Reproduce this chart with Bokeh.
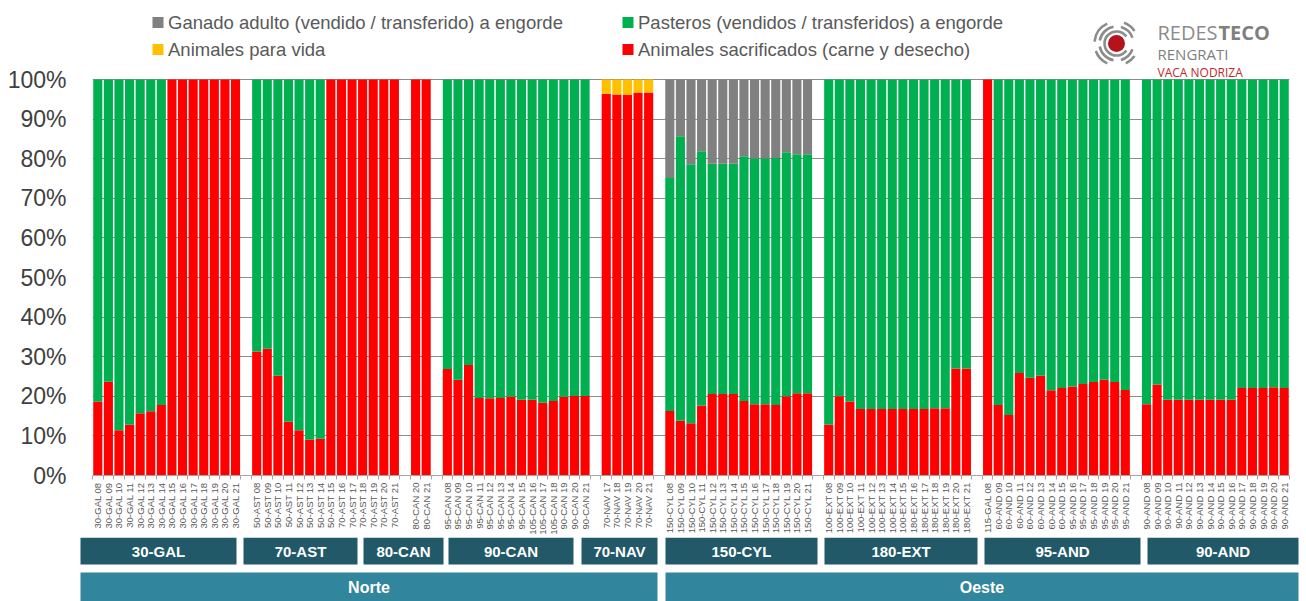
import math
from bokeh.plotting import figure
from bokeh.models import ColumnDataSource, Range1d, FixedTicker
from bokeh.layouts import column
from bokeh.embed import file_html
from bokeh.resources import INLINE
from bokeh.core.properties import value

# ---------------- data ----------------
groups = ["30-GAL", "70-AST", "80-CAN", "90-CAN", "70-NAV", "150-CYL", "180-EXT", "95-AND", "90-AND"]
group_sizes = [14, 14, 2, 14, 5, 14, 14, 14, 14]
regions = ["Norte", "Oeste"]

bar_labels = [
    # 30-GAL
    "30-GAL 08", "30-GAL 09", "30-GAL 10", "30-GAL 11", "30-GAL 12", "30-GAL 13", "30-GAL 14",
    "30-GAL 15", "30-GAL 16", "30-GAL 17", "30-GAL 18", "30-GAL 19", "30-GAL 20", "30-GAL 21",
    # 70-AST
    "50-AST 08", "50-AST 09", "50-AST 10", "50-AST 11", "50-AST 12", "50-AST 13", "50-AST 14",
    "50-AST 15", "70-AST 16", "70-AST 17", "70-AST 18", "70-AST 19", "70-AST 20", "70-AST 21",
    # 80-CAN
    "80-CAN 20", "80-CAN 21",
    # 90-CAN
    "95-CAN 08", "95-CAN 09", "95-CAN 10", "95-CAN 11", "95-CAN 12", "95-CAN 13", "95-CAN 14",
    "95-CAN 15", "105-CAN 16", "105-CAN 17", "105-CAN 18", "90-CAN 19", "90-CAN 20", "90-CAN 21",
    # 70-NAV
    "70-NAV 17", "70-NAV 18", "70-NAV 19", "70-NAV 20", "70-NAV 21",
    # 150-CYL
    "150-CYL 08", "150-CYL 09", "150-CYL 10", "150-CYL 11", "150-CYL 12", "150-CYL 13", "150-CYL 14",
    "150-CYL 15", "150-CYL 16", "150-CYL 17", "150-CYL 18", "150-CYL 19", "150-CYL 20", "150-CYL 21",
    # 180-EXT
    "100-EXT 08", "100-EXT 09", "100-EXT 10", "100-EXT 11", "100-EXT 12", "100-EXT 13", "100-EXT 14",
    "100-EXT 15", "180-EXT 16", "180-EXT 17", "180-EXT 18", "180-EXT 19", "180-EXT 20", "180-EXT 21",
    # 95-AND
    "115-GAL 08", "60-AND 09", "60-AND 10", "60-AND 11", "60-AND 12", "60-AND 13", "60-AND 14",
    "60-AND 15", "95-AND 16", "95-AND 17", "95-AND 18", "95-AND 19", "95-AND 20", "95-AND 21",
    # 90-AND
    "90-AND 08", "90-AND 09", "90-AND 10", "90-AND 11", "90-AND 12", "90-AND 13", "90-AND 14",
    "90-AND 15", "90-AND 16", "90-AND 17", "90-AND 18", "90-AND 19", "90-AND 20", "90-AND 21",
]

# Animales sacrificados (carne y desecho) - %
sacrificados = [
    18.7, 23.7, 11.4, 12.8, 15.7, 16.2, 17.8, 100, 100, 100, 100, 100, 100, 100,
    31.3, 32.0, 25.2, 13.6, 11.4, 9.1, 9.3, 100, 100, 100, 100, 100, 100, 100,
    100, 100,
    26.9, 24.2, 27.9, 19.6, 19.5, 19.6, 19.9, 19.1, 19.1, 18.4, 18.8, 19.9, 20.1, 20.1,
    96.4, 96.2, 96.1, 96.7, 96.7,
    16.3, 13.8, 13.2, 17.7, 20.6, 20.6, 20.6, 18.8, 18.0, 18.0, 17.8, 20.0, 20.8, 20.8,
    12.9, 20.0, 18.7, 16.8, 16.8, 16.8, 16.8, 16.8, 16.8, 16.8, 17.0, 17.0, 27.0, 27.0,
    100, 17.8, 15.3, 25.9, 24.7, 25.2, 21.5, 22.1, 22.5, 23.1, 23.6, 24.2, 23.6, 21.6,
    18.0, 23.0, 19.1, 19.1, 19.1, 19.1, 19.1, 19.1, 19.1, 22.1, 22.1, 22.1, 22.3, 22.1,
]
# Pasteros (vendidos / transferidos) a engorde - %
pasteros = [
    81.3, 76.3, 88.6, 87.2, 84.3, 83.8, 82.2, 0, 0, 0, 0, 0, 0, 0,
    68.7, 68.0, 74.8, 86.4, 88.6, 90.9, 90.7, 0, 0, 0, 0, 0, 0, 0,
    0, 0,
    73.1, 75.8, 72.1, 80.4, 80.5, 80.4, 80.1, 80.9, 80.9, 81.6, 81.2, 80.1, 79.9, 79.9,
    0, 0, 0, 0, 0,
    58.8, 71.9, 65.4, 64.2, 58.1, 58.1, 58.1, 61.8, 62.1, 62.1, 62.4, 61.6, 60.3, 60.3,
    87.1, 80.0, 81.3, 83.2, 83.2, 83.2, 83.2, 83.2, 83.2, 83.2, 83.0, 83.0, 73.0, 73.0,
    0, 82.2, 84.7, 74.1, 75.3, 74.8, 78.5, 77.9, 77.5, 76.9, 76.4, 75.8, 76.4, 78.4,
    82.0, 77.0, 80.9, 80.9, 80.9, 80.9, 80.9, 80.9, 80.9, 77.9, 77.9, 77.9, 77.7, 77.9,
]
# Ganado adulto (vendido / transferido) a engorde - %
adulto = [
    0, 0, 0, 0, 0, 0, 0, 0, 0, 0, 0, 0, 0, 0,
    0, 0, 0, 0, 0, 0, 0, 0, 0, 0, 0, 0, 0, 0,
    0, 0,
    0, 0, 0, 0, 0, 0, 0, 0, 0, 0, 0, 0, 0, 0,
    0, 0, 0, 0, 0,
    24.9, 14.3, 21.4, 18.1, 21.3, 21.3, 21.3, 19.4, 19.9, 19.9, 19.8, 18.4, 18.9, 18.9,
    0, 0, 0, 0, 0, 0, 0, 0, 0, 0, 0, 0, 0, 0,
    0, 0, 0, 0, 0, 0, 0, 0, 0, 0, 0, 0, 0, 0,
    0, 0, 0, 0, 0, 0, 0, 0, 0, 0, 0, 0, 0, 0,
]
# Animales para vida - %
vida = [
    0, 0, 0, 0, 0, 0, 0, 0, 0, 0, 0, 0, 0, 0,
    0, 0, 0, 0, 0, 0, 0, 0, 0, 0, 0, 0, 0, 0,
    0, 0,
    0, 0, 0, 0, 0, 0, 0, 0, 0, 0, 0, 0, 0, 0,
    3.6, 3.8, 3.9, 3.3, 3.3,
    0, 0, 0, 0, 0, 0, 0, 0, 0, 0, 0, 0, 0, 0,
    0, 0, 0, 0, 0, 0, 0, 0, 0, 0, 0, 0, 0, 0,
    0, 0, 0, 0, 0, 0, 0, 0, 0, 0, 0, 0, 0, 0,
    0, 0, 0, 0, 0, 0, 0, 0, 0, 0, 0, 0, 0, 0,
]

series_keys = ["sac", "past", "adulto", "vida"]
C_RED, C_GREEN, C_GRAY, C_YELLOW = "#FF0000", "#00B050", "#808080", "#FFC000"
series_colors = [C_RED, C_GREEN, C_GRAY, C_YELLOW]

y_ticks = [0, 10, 20, 30, 40, 50, 60, 70, 80, 90, 100]

# ---------------- layout ----------------
positions = []
slot = 0
for n in group_sizes:
    for _ in range(n):
        positions.append(slot)
        slot += 1
    slot += 1
n_slots = slot - 1

W = 1306
FRAME_L, FRAME_R = 92, 17          # frame spans page x 92..1289
FRAME_BOTTOM_Y = 475               # 0 %
Y100 = 79                          # 100 %
FRAME_B = 62
MAIN_H = FRAME_BOTTOM_Y + FRAME_B
frame_w = W - FRAME_L - FRAME_R
frame_h = FRAME_BOTTOM_Y
y_top = 100.0 * frame_h / (FRAME_BOTTOM_Y - Y100)

p = figure(width=W, height=MAIN_H,
           x_range=Range1d(-0.5, n_slots - 0.5), y_range=Range1d(0, y_top),
           output_backend="svg", toolbar_location=None,
           min_border_left=FRAME_L, min_border_right=FRAME_R,
           min_border_top=0, min_border_bottom=FRAME_B)
p.frame_align = False
p.outline_line_color = None
p.background_fill_color = "white"
p.border_fill_color = "white"

src = ColumnDataSource(dict(x=positions, sac=sacrificados, past=pasteros,
                            adulto=adulto, vida=vida))
p.vbar_stack(series_keys, x="x", width=0.86, source=src,
             color=series_colors, line_color=None)

# axes
xt = FixedTicker(ticks=positions, minor_ticks=[v - 0.5 for v in range(n_slots + 1)])
p.xaxis.ticker = xt
p.xaxis.major_label_overrides = {pos: lab for pos, lab in zip(positions, bar_labels)}
p.xaxis.major_label_orientation = math.pi / 2
p.xaxis.major_label_text_font = "Liberation Sans"
p.xaxis.major_label_text_font_size = "9.5px"
p.xaxis.major_label_text_color = "#595959"
p.xaxis.major_label_standoff = 3
p.xaxis.major_tick_line_color = None
p.xaxis.major_tick_out = 0
p.xaxis.minor_tick_out = 4
p.xaxis.minor_tick_in = 0
p.xaxis.minor_tick_line_color = "#A6A6A6"
p.xaxis.axis_line_color = "#A6A6A6"

yt = FixedTicker(ticks=y_ticks, minor_ticks=[])
p.yaxis.ticker = yt
p.yaxis.major_label_overrides = {v: f"{v}%" for v in y_ticks}
p.yaxis.major_label_text_font = "Liberation Sans"
p.yaxis.major_label_text_font_size = "23px"
p.yaxis.major_label_text_color = "#404040"
p.yaxis.major_label_standoff = 20
p.yaxis.major_tick_line_color = None
p.yaxis.minor_tick_line_color = None
p.yaxis.axis_line_color = None

p.xgrid.visible = False
p.ygrid.ticker = yt
p.ygrid.grid_line_color = "#8C8C8C"
p.ygrid.grid_line_width = 1

# header (legend + logo) placed in page-pixel coordinates inside the frame
p.extra_x_ranges = {"px": Range1d(FRAME_L, FRAME_L + frame_w)}
p.extra_y_ranges = {"px": Range1d(frame_h, 0)}

leg_names = ["Ganado adulto (vendido / transferido) a engorde",
             "Pasteros (vendidos / transferidos) a engorde",
             "Animales para vida",
             "Animales sacrificados (carne y desecho)"]
leg_colors = [C_GRAY, C_GREEN, C_YELLOW, C_RED]
leg_x = [157.5, 627.5, 157.5, 627.5]
leg_y = [22, 22, 49, 49]
p.scatter(x=leg_x, y=leg_y, marker="square", size=11, color=leg_colors,
          line_color=None, x_range_name="px", y_range_name="px")
p.text(x=[v + 10 for v in leg_x], y=leg_y, text=leg_names,
       text_baseline="middle", text_align="left",
       text_font=value("Liberation Sans"), text_font_size="18.5px",
       text_color="#595959", x_range_name="px", y_range_name="px")

# logo
cx, cy = 1116, 43
LOGO_GRAY = "#8C8C8C"
rings = [(12, 35, 325), (17, 100, 170), (17, 190, 260), (17, 285, 340), (17, 20, 75),
         (22, 115, 160), (22, 185, 245), (22, 290, 325), (22, 35, 65)]
for r, a0, a1 in rings:
    p.arc(x=[cx], y=[cy], radius=r, start_angle=math.radians(-a1), end_angle=math.radians(-a0),
          line_color=LOGO_GRAY, line_width=2.6, x_range_name="px", y_range_name="px")
p.scatter(x=[cx], y=[cy], marker="circle", size=17, color="#B5121B", line_color=None,
          x_range_name="px", y_range_name="px")
p.text(x=[1157], y=[31.5], text=["REDES"], text_baseline="middle",
       text_font=value("Open Sans"), text_font_size="20px", text_color="#8C8C8C",
       x_range_name="px", y_range_name="px")
p.text(x=[1218], y=[31.5], text=["TECO"], text_baseline="middle",
       text_font=value("Open Sans"), text_font_style="bold", text_font_size="20px",
       text_color="#7F7F7F", x_range_name="px", y_range_name="px")
p.text(x=[1157], y=[53], text=["RENGRATI"], text_baseline="middle",
       text_font=value("Open Sans"), text_font_size="15px", text_color="#7F7F7F",
       x_range_name="px", y_range_name="px")
p.text(x=[1157], y=[71.5], text=["VACA NODRIZA"], text_baseline="middle",
       text_font=value("Open Sans"), text_font_size="12px", text_color="#C0282D",
       x_range_name="px", y_range_name="px")

# ---------------- footer with group / region boxes ----------------
FOOT_H = 601 - MAIN_H
group_left = [80, 243, 363, 448, 581, 665, 824, 984, 1147]
group_right = [236, 357, 443, 573, 657, 817, 977, 1140, 1298]
region_left = [80, 665]
region_right = [657, 1298]
GB_TOP, GB_BOT = 534 - MAIN_H, 564 - MAIN_H
RB_TOP, RB_BOT = 572 - MAIN_H, FOOT_H

f = figure(width=W, height=FOOT_H, x_range=Range1d(0, W), y_range=Range1d(FOOT_H, 0),
           output_backend="svg", toolbar_location=None, min_border=0,
           x_axis_type=None, y_axis_type=None)
f.frame_align = False
f.outline_line_color = None
f.xgrid.visible = False
f.ygrid.visible = False
f.quad(left=group_left, right=group_right, top=max(GB_TOP, 0), bottom=GB_BOT,
       color="#215968", line_color=None)
f.text(x=[(a + b) / 2 for a, b in zip(group_left, group_right)],
       y=[(max(GB_TOP, 0) + GB_BOT) / 2] * len(groups),
       text=groups, text_align="center", text_baseline="middle",
       text_font=value("Liberation Sans"), text_font_style="bold", text_font_size="15px",
       text_color="white")
f.quad(left=region_left, right=region_right, top=RB_TOP, bottom=RB_BOT,
       color="#31859C", line_color=None)
f.text(x=[(a + b) / 2 for a, b in zip(region_left, region_right)],
       y=[(RB_TOP + RB_BOT) / 2] * len(regions),
       text=regions, text_align="center", text_baseline="middle",
       text_font=value("Liberation Sans"), text_font_style="bold", text_font_size="16px",
       text_color="white")

layout = column(p, f, spacing=0)
open("out.html", "w").write(file_html(layout, INLINE))
